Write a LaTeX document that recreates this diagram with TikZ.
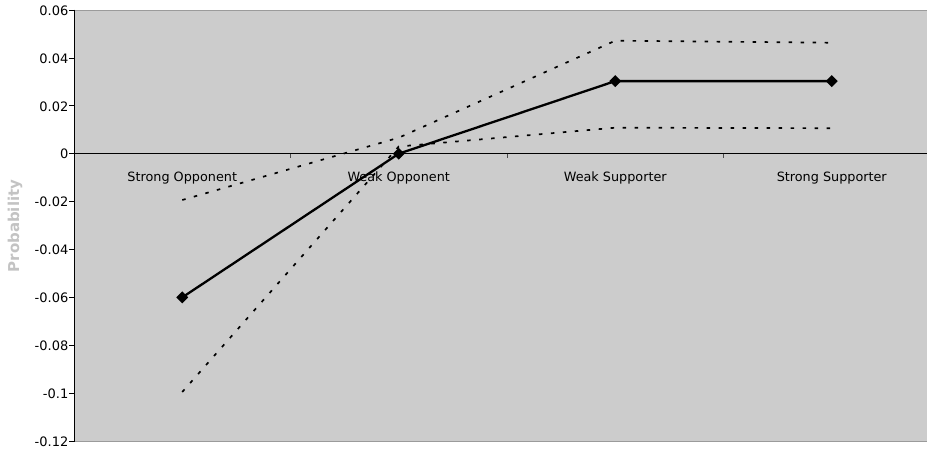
\documentclass[tikz,border=0pt]{standalone}
\usepackage{fontspec}
\setmainfont{DejaVu Sans}
\usetikzlibrary{shapes.geometric}
\definecolor{plotbg}{RGB}{204,204,204}
\definecolor{framegray}{RGB}{155,155,155}
\definecolor{titlegray}{RGB}{195,195,195}
\tikzset{
  axislabel/.style={anchor=east, inner sep=0pt, font=\fontsize{13}{15}\selectfont},
  catlabel/.style={anchor=base, inner sep=0pt, font=\fontsize{12.8}{15}\selectfont},
  meanline/.style={line width=2.3pt, black, line join=round},
  ciline/.style={line width=1.7pt, black, dash pattern=on 3.5pt off 8.5pt},
  marker/.style={diamond, fill=black, inner sep=0pt, minimum width=12pt, minimum height=12pt},
  ticklinestyle/.style={line width=0.8pt, black},
}
\begin{document}
\begin{tikzpicture}[x=1pt,y=-1pt]
\useasboundingbox (0,0) rectangle (927,453);
% plot area
\fill[plotbg] (74,10) rectangle (927,441);
\draw[framegray, line width=1pt] (74,10) -- (927,10);
\draw[framegray, line width=1pt] (74,441) -- (927,441);
% y axis
\draw[black, line width=1pt] (74,9.5) -- (74,441.5);
\foreach \k/\lab in {0/0.06,1/0.04,2/0.02,3/0,4/-0.02,5/-0.04,6/-0.06,7/-0.08,8/-0.1,9/-0.12}{
  \draw[ticklinestyle] (69,{10+\k*47.9}) -- (74,{10+\k*47.9});
  \node[axislabel] (yl\k) at (68.5,{10.5+\k*47.9}) {\lab};
}
% zero axis
\draw[black, line width=1pt] (74,153.7) -- (927,153.7);
\foreach \xx in {290.5,507,723.5}{
  \draw[black!70, line width=0.8pt] (\xx,153.7) -- (\xx,157.5);
}
% category labels
\node[catlabel] (c1) at (182.25,181.5) {Strong Opponent};
\node[catlabel] (c2) at (398.75,181.5) {Weak Opponent};
\node[catlabel] (c3) at (615.25,181.5) {Weak Supporter};
\node[catlabel] (c4) at (831.75,181.5) {Strong Supporter};
% axis title
\node[rotate=90, text=titlegray, font=\bfseries\fontsize{15}{16}\selectfont] (ytitle) at (15,226) {Probability};
% data points
\coordinate (s1) at (182.25,297.4);
\coordinate (s2) at (398.75,153.7);
\coordinate (s3) at (615.25,81.1);
\coordinate (s4) at (831.75,81.1);
\coordinate (u1) at (182.25,200);
\coordinate (u2) at (398.75,137.7);
\coordinate (u3) at (615.25,40.7);
\coordinate (u4) at (831.75,42.7);
\coordinate (l1) at (182.25,392);
\coordinate (l2) at (398.75,146.5);
\coordinate (l3) at (615.25,127.7);
\coordinate (l4) at (831.75,128.2);
% confidence lines
\draw[ciline] (u1) -- (u2) -- (u3) -- (u4);
\draw[ciline] (l1) -- (l2) -- (l3) -- (l4);
% mean line
\draw[meanline] (s1) -- (s2) -- (s3) -- (s4);
\foreach \i in {1,2,3,4}{
  \node[marker] (m\i) at (s\i) {};
}
\end{tikzpicture}
\end{document}
